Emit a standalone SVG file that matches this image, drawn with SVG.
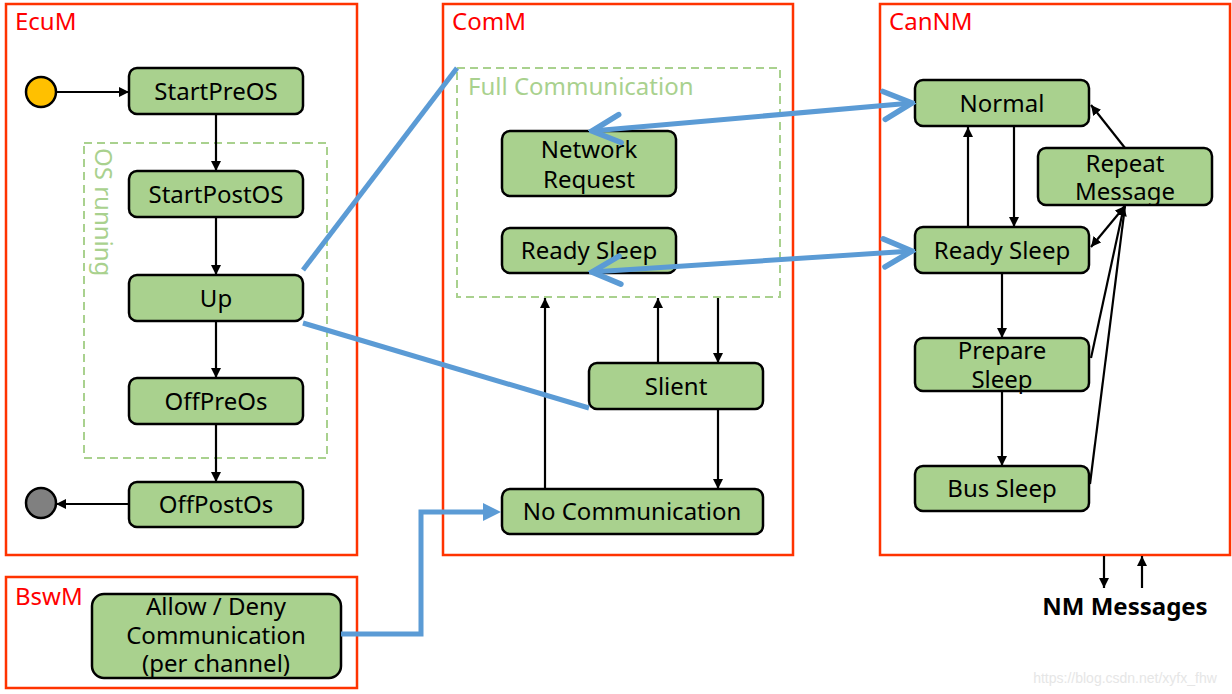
<svg xmlns="http://www.w3.org/2000/svg" width="1232" height="694" viewBox="0 0 1232 694">
<style>
.box{fill:none;stroke:#FF3300;stroke-width:2.5}
.lbl{font-family:"Noto Sans","Open Sans",sans-serif;font-size:24px;fill:#FF0000}
.dash{fill:none;stroke:#A9D18E;stroke-width:2;stroke-dasharray:8 5}
.dl{font-family:"Noto Sans","Open Sans",sans-serif;font-size:24px;fill:#A9D18E}
.n{fill:#A9D18E;stroke:#000;stroke-width:2.5}
.t{font-family:"Noto Sans","Open Sans",sans-serif;font-size:24px;fill:#000;text-anchor:middle}
.c{fill:none;stroke:#000;stroke-width:2.2}
.b{fill:none;stroke:#5B9BD5;stroke-width:5}
</style>
<defs>
<marker id="ah" viewBox="0 0 10 10" refX="10" refY="5" markerWidth="10" markerHeight="10" markerUnits="userSpaceOnUse" orient="auto-start-reverse"><path d="M0,0 L10,5 L0,10 z" fill="#000"/></marker>
<marker id="bv" viewBox="0 0 10 10" refX="9" refY="5" markerWidth="7" markerHeight="7" orient="auto-start-reverse"><path d="M1,1 L9,5 L1,9" fill="none" stroke="#5B9BD5" stroke-width="1.6" stroke-linecap="round"/></marker>
</defs>
<rect width="1232" height="694" fill="#fff"/>

<g id="EcuM">
<rect class="box" x="6" y="4" width="351" height="551"/>
<text class="lbl" x="15" y="30">EcuM</text>
<rect class="dash" x="84" y="143" width="243" height="315"/>
<text class="dl" transform="translate(95,148) rotate(90)">OS running</text>
</g>
<g id="ComM">
<rect class="box" x="443" y="4" width="350" height="551"/>
<text class="lbl" x="452" y="30">ComM</text>
<rect class="dash" x="457" y="68" width="323" height="229"/>
<text class="dl" x="468" y="95">Full Communication</text>
</g>
<g id="CanNM">
<rect class="box" x="880" y="4" width="350" height="551"/>
<text class="lbl" x="889" y="30">CanNM</text>
</g>
<g id="BswM">
<rect class="box" x="6" y="577" width="351" height="111"/>
<text class="lbl" x="15" y="605">BswM</text>
</g>

<g id="init"><circle cx="41" cy="92" r="15" fill="#FFC000" stroke="#000" stroke-width="2.5"/></g>
<g id="final"><circle cx="41" cy="503" r="15" fill="#808080" stroke="#000" stroke-width="2.5"/></g>

<g id="StartPreOS"><rect class="n" x="129" y="68" width="174" height="46" rx="8"/><text class="t" x="216" y="100">StartPreOS</text></g>
<g id="StartPostOS"><rect class="n" x="129" y="171" width="174" height="46" rx="8"/><text class="t" x="216" y="203">StartPostOS</text></g>
<g id="Up"><rect class="n" x="129" y="275" width="174" height="46" rx="8"/><text class="t" x="216" y="307">Up</text></g>
<g id="OffPreOs"><rect class="n" x="129" y="378" width="174" height="46" rx="8"/><text class="t" x="216" y="410">OffPreOs</text></g>
<g id="OffPostOs"><rect class="n" x="129" y="482" width="174" height="45" rx="8"/><text class="t" x="216" y="513">OffPostOs</text></g>

<g id="NetworkRequest"><rect class="n" x="502" y="131" width="174" height="65" rx="8"/><text class="t" x="589" y="158">Network</text><text class="t" x="589" y="188">Request</text></g>
<g id="ComReadySleep"><rect class="n" x="502" y="228" width="174" height="45" rx="8"/><text class="t" x="589" y="259">Ready Sleep</text></g>
<g id="Slient"><rect class="n" x="589" y="363" width="174" height="46" rx="8"/><text class="t" x="676" y="395">Slient</text></g>
<g id="NoCommunication"><rect class="n" x="502" y="489" width="261" height="45" rx="8"/><text class="t" x="632" y="520">No Communication</text></g>

<g id="Normal"><rect class="n" x="915" y="80" width="174" height="46" rx="8"/><text class="t" x="1002" y="112">Normal</text></g>
<g id="RepeatMessage"><rect class="n" x="1038" y="148" width="174" height="57" rx="8"/><text class="t" x="1125" y="172">Repeat</text><text class="t" x="1125" y="200">Message</text></g>
<g id="CanReadySleep"><rect class="n" x="915" y="227" width="174" height="46" rx="8"/><text class="t" x="1002" y="259">Ready Sleep</text></g>
<g id="PrepareSleep"><rect class="n" x="915" y="338" width="174" height="53" rx="8"/><text class="t" x="1002" y="359">Prepare</text><text class="t" x="1002" y="388">Sleep</text></g>
<g id="BusSleep"><rect class="n" x="915" y="466" width="174" height="45" rx="8"/><text class="t" x="1002" y="497">Bus Sleep</text></g>

<g id="AllowDeny"><rect class="n" x="92" y="594" width="249" height="84" rx="12"/><text class="t" x="216" y="615">Allow / Deny</text><text class="t" x="216" y="644">Communication</text><text class="t" x="216" y="672">(per channel)</text></g>

<text x="1125" y="615" font-family="Noto Sans,Open Sans,sans-serif" font-size="24" font-weight="bold" text-anchor="middle" fill="#000">NM Messages</text>
<text x="1125" y="683" font-family="Liberation Sans,Arial,sans-serif" font-size="14" text-anchor="middle" fill="#E6E6E6">https://blog.csdn.net/xyfx_fhw</text>

<g id="connectors">
<line class="c" x1="56" y1="92" x2="129" y2="92" marker-end="url(#ah)"/>
<line class="c" x1="216" y1="114" x2="216" y2="171" marker-end="url(#ah)"/>
<line class="c" x1="216" y1="217" x2="216" y2="275" marker-end="url(#ah)"/>
<line class="c" x1="216" y1="321" x2="216" y2="378" marker-end="url(#ah)"/>
<line class="c" x1="216" y1="424" x2="216" y2="482" marker-end="url(#ah)"/>
<line class="c" x1="129" y1="504" x2="56" y2="504" marker-end="url(#ah)"/>

<line class="c" x1="545" y1="489" x2="545" y2="298" marker-end="url(#ah)"/>
<line class="c" x1="658" y1="363" x2="658" y2="298" marker-end="url(#ah)"/>
<line class="c" x1="718" y1="298" x2="718" y2="363" marker-end="url(#ah)"/>
<line class="c" x1="718" y1="409" x2="718" y2="489" marker-end="url(#ah)"/>

<line class="c" x1="968" y1="227" x2="968" y2="127" marker-end="url(#ah)"/>
<line class="c" x1="1014" y1="126" x2="1014" y2="227" marker-end="url(#ah)"/>
<line class="c" x1="1002" y1="273" x2="1002" y2="338" marker-end="url(#ah)"/>
<line class="c" x1="1002" y1="391" x2="1002" y2="466" marker-end="url(#ah)"/>
<line class="c" x1="1125" y1="148" x2="1091" y2="105" marker-end="url(#ah)"/>
<line class="c" x1="1125" y1="206" x2="1091" y2="247" marker-start="url(#ah)" marker-end="url(#ah)"/>
<line class="c" x1="1091" y1="358" x2="1124" y2="206" marker-end="url(#ah)"/>
<line class="c" x1="1090" y1="484" x2="1125" y2="206"/>
<line class="c" x1="1104" y1="556" x2="1104" y2="588" marker-end="url(#ah)"/>
<line class="c" x1="1142" y1="588" x2="1142" y2="556" marker-end="url(#ah)"/>

<line class="b" x1="303" y1="270" x2="457" y2="68"/>
<line class="b" x1="303" y1="323" x2="589" y2="408"/>
<line class="b" x1="592" y1="131" x2="912" y2="103" marker-start="url(#bv)" marker-end="url(#bv)"/>
<line class="b" x1="592" y1="272" x2="912" y2="251" marker-start="url(#bv)" marker-end="url(#bv)"/>
<polyline class="b" points="341,634 421,634 421,512 484,512"/>
<path d="M483,503 L501,512 L483,521 z" fill="#5B9BD5"/>
</g>
</svg>
